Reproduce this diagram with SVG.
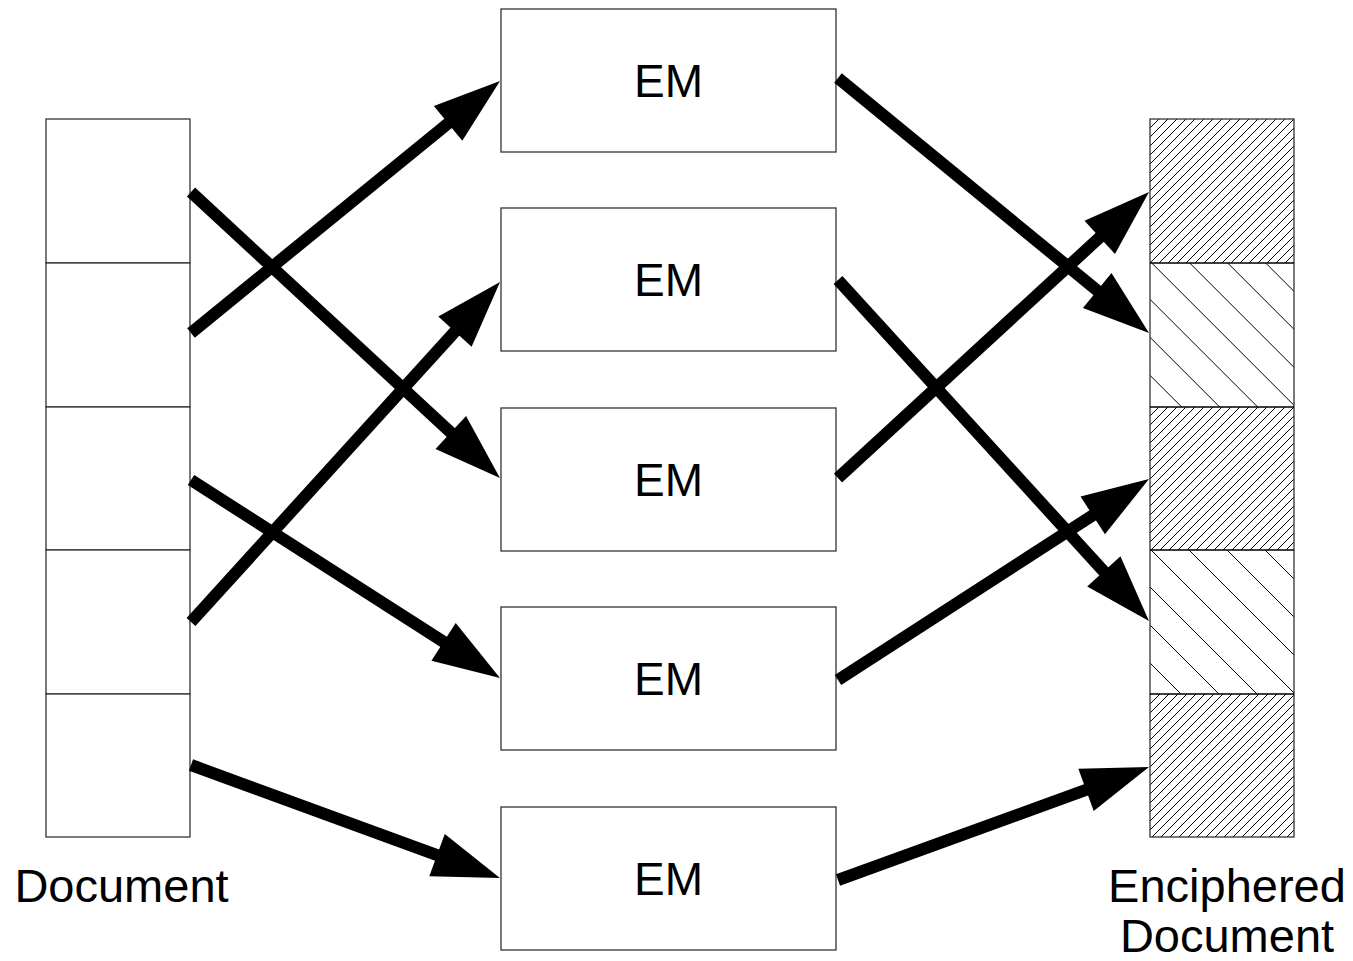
<svg xmlns="http://www.w3.org/2000/svg" width="1353" height="961" viewBox="0 0 1353 961">
  <style>
    .cell { fill: #ffffff; stroke: #333333; stroke-width: 1.3; }
    .em { fill: #ffffff; stroke: #333333; stroke-width: 1.3; }
    .label { font-family: "Liberation Sans", Arial, sans-serif; font-size: 46px; fill: #000000; text-anchor: middle; }
    .cap { font-family: "Liberation Sans", Arial, sans-serif; font-size: 47px; fill: #000000; text-anchor: middle; }
    .flow { fill: none; stroke: #000000; stroke-width: 12; stroke-linecap: butt; marker-end: url(#head); }
    .hatch { stroke: #000000; stroke-width: 1; }
  </style>
  <defs>
    <marker id="head" markerUnits="userSpaceOnUse" markerWidth="70" markerHeight="46" refX="27" refY="22.5" orient="auto" overflow="visible">
      <path d="M0,0 L67,22.5 L0,45 Z" fill="#000000"/>
    </marker>
    <!-- dense forward hatching -->
    <pattern id="fine" patternUnits="userSpaceOnUse" width="9" height="9">
      <path class="hatch" d="M-1,1 L1,-1 M0,9 L9,0 M8,10 L10,8"/>
    </pattern>
    <!-- wide backward hatching, two phases -->
    <pattern id="wideA" patternUnits="userSpaceOnUse" x="14.7" y="0" width="38" height="38">
      <path class="hatch" d="M-2,-2 L40,40 M36,-2 L40,2 M-2,36 L2,40"/>
    </pattern>
    <pattern id="wideB" patternUnits="userSpaceOnUse" x="31" y="0" width="38" height="38">
      <path class="hatch" d="M-2,-2 L40,40 M36,-2 L40,2 M-2,36 L2,40"/>
    </pattern>
  </defs>

  <!-- plain document column -->
  <g id="document">
    <rect class="cell" x="46" y="119" width="144" height="144"/>
    <rect class="cell" x="46" y="263" width="144" height="144"/>
    <rect class="cell" x="46" y="407" width="144" height="143"/>
    <rect class="cell" x="46" y="550" width="144" height="144"/>
    <rect class="cell" x="46" y="694" width="144" height="143"/>
    <text class="cap" x="121.5" y="902">Document</text>
  </g>

  <!-- encryption modules -->
  <g id="em1"><rect class="em" x="501" y="9" width="335" height="143"/><text class="label" x="668.5" y="97">EM</text></g>
  <g id="em2"><rect class="em" x="501" y="208" width="335" height="143"/><text class="label" x="668.5" y="296">EM</text></g>
  <g id="em3"><rect class="em" x="501" y="408" width="335" height="143"/><text class="label" x="668.5" y="496">EM</text></g>
  <g id="em4"><rect class="em" x="501" y="607" width="335" height="143"/><text class="label" x="668.5" y="695">EM</text></g>
  <g id="em5"><rect class="em" x="501" y="807" width="335" height="143"/><text class="label" x="668.5" y="895">EM</text></g>

  <!-- enciphered document column -->
  <g id="enciphered">
    <rect x="1150" y="119" width="144" height="144" fill="#ffffff"/>
    <rect x="1150" y="119" width="144" height="144" fill="url(#fine)"/>
    <rect x="1150" y="263" width="144" height="144" fill="#ffffff"/>
    <rect x="1150" y="263" width="144" height="144" fill="url(#wideA)"/>
    <rect x="1150" y="407" width="144" height="143" fill="#ffffff"/>
    <rect x="1150" y="407" width="144" height="143" fill="url(#fine)"/>
    <rect x="1150" y="550" width="144" height="144" fill="#ffffff"/>
    <rect x="1150" y="550" width="144" height="144" fill="url(#wideB)"/>
    <rect x="1150" y="694" width="144" height="143" fill="#ffffff"/>
    <rect x="1150" y="694" width="144" height="143" fill="url(#fine)"/>
    <g fill="none" stroke="#333333" stroke-width="1.3">
      <rect x="1150" y="119" width="144" height="718"/>
      <path d="M1150,263 H1294 M1150,407 H1294 M1150,550 H1294 M1150,694 H1294" stroke="#000000"/>
    </g>
    <text class="cap" x="1227" y="902">Enciphered</text>
    <text class="cap" x="1227" y="952">Document</text>
  </g>

  <!-- connectors -->
  <g id="connectors">
    <path class="flow" d="M191,192 L470.6,450.8"/>
    <path class="flow" d="M191,333 L469.0,106.3"/>
    <path class="flow" d="M191,480 L466.3,656.4"/>
    <path class="flow" d="M191,622 L473.1,311.6"/>
    <path class="flow" d="M191,765 L462.4,864.3"/>
    <path class="flow" d="M838,78 L1118.1,307.6"/>
    <path class="flow" d="M838,280 L1122.0,591.4"/>
    <path class="flow" d="M838,478 L1119.6,219.1"/>
    <path class="flow" d="M838,680 L1115.4,500.7"/>
    <path class="flow" d="M838,880 L1111.4,780.7"/>
  </g>
</svg>
